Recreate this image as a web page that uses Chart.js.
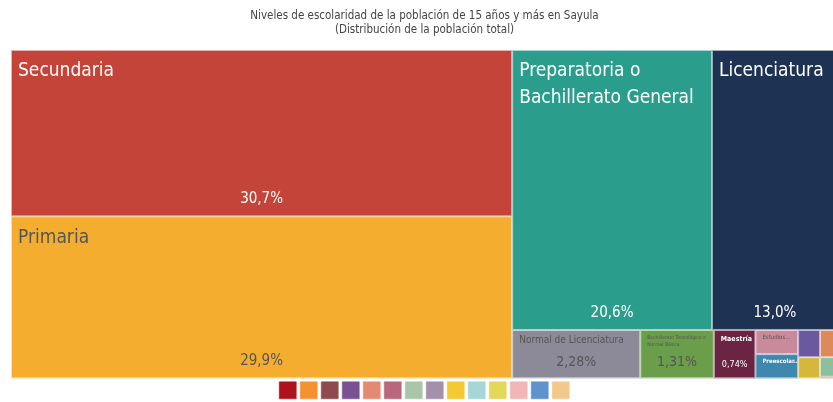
<!DOCTYPE html>
<html>
<head>
<meta charset="utf-8">
<script src="https://cdn.jsdelivr.net/npm/chart.js@4.4.1/dist/chart.umd.min.js"></script>
<style>
  html, body { margin: 0; padding: 0; background: #fff; overflow: hidden; }
  #wrap { width: 849px; height: 402px; }
</style>
</head>
<body>
<div id="wrap"><canvas id="chTreemap" width="849" height="402"></canvas></div>
<script>
/* Data */
const titleLines = ['Niveles de escolaridad de la población de 15 años y más en Sayula', '(Distribución de la población total)'];

const categories = [
    'Secundaria',
    'Primaria',
    'Preparatoria o Bachillerato General',
    'Licenciatura',
    'Normal de Licenciatura',
    'Bachillerato Tecnológico o Normal Básica',
    'Maestría',
    'Estudios Técnicos o Comerciales con Primaria Terminada',
    'Preescolar o Kinder',
    'Estudios Técnicos o Comerciales con Secundaria Terminada',
    'Estudios Técnicos o Comerciales con Preparatoria Terminada',
    'Especialidad',
    'Doctorado',
    'No especificado'
];
// share of the population, in %
const shares = [30.7, 29.9, 20.6, 13.0, 2.28, 1.31, 0.74, 0.38, 0.38, 0.22, 0.18, 0.17, 0.13, 0.01];

const cellColors = ['#C5443A', '#F5AD30', '#2A9D8C', '#1E3354', '#8C8A99', '#6A9E4B', '#6B2543',
    '#C98A9B', '#3E87AF', '#6A58A0', '#DC8A5A', '#D6B73E', '#8DBEA0', '#C0734F'];

const legendColors = ['#B0121B', '#F5922F', '#8E4A4C', '#7A5195', '#E58A72', '#B9677A', '#A9C6A9',
    '#A58FAA', '#F4C932', '#A6D6D6', '#E2D85A', '#F2B5B8', '#6092CB', '#F2C98B'];

const FONT = "'Liberation Sans Narrow', 'DejaVu Sans Condensed', Roboto, sans-serif";
const PHI = (1 + Math.sqrt(5)) / 2;

/* Helper Functions */
// squarified layout, same steps as d3.treemapSquarify
function squarify(nodes, x0, y0, x1, y1) {
    let value = nodes.reduce((s, n) => s + n.value, 0);
    let i0 = 0, i1 = 0;
    const n = nodes.length;
    while (i0 < n) {
        const dx = x1 - x0, dy = y1 - y0;
        let sumValue = nodes[i1++].value;
        let minValue = sumValue, maxValue = sumValue;
        const alpha = Math.max(dy / dx, dx / dy) / (value * PHI);
        let beta = sumValue * sumValue * alpha;
        let minRatio = Math.max(maxValue / beta, beta / minValue);
        for (; i1 < n; ++i1) {
            const v = nodes[i1].value;
            sumValue += v;
            if (v < minValue) minValue = v;
            if (v > maxValue) maxValue = v;
            beta = sumValue * sumValue * alpha;
            const newRatio = Math.max(maxValue / beta, beta / minValue);
            if (newRatio > minRatio) { sumValue -= v; break; }
            minRatio = newRatio;
        }
        const row = nodes.slice(i0, i1);
        if (dx < dy) {
            const yb = value ? y0 + dy * sumValue / value : y1;
            let x = x0;
            row.forEach(nd => {
                const w = (x1 - x0) * nd.value / sumValue;
                Object.assign(nd, { x0: x, x1: x + w, y0: y0, y1: yb });
                x += w;
            });
            y0 = yb;
        } else {
            const xb = value ? x0 + dx * sumValue / value : x1;
            let y = y0;
            row.forEach(nd => {
                const h = (y1 - y0) * nd.value / sumValue;
                Object.assign(nd, { x0: x0, x1: xb, y0: y, y1: y + h });
                y += h;
            });
            x0 = xb;
        }
        value -= sumValue;
        i0 = i1;
    }
    return nodes;
}

function wrapText(ctx, text, maxW) {
    const words = text.split(' ');
    const lines = [];
    let line = '';
    words.forEach(w => {
        const test = line ? line + ' ' + w : w;
        if (line && ctx.measureText(test).width > maxW) {
            lines.push(line);
            line = w;
        } else {
            line = test;
        }
    });
    if (line) lines.push(line);
    return lines;
}

function fmtShare(v) {
    const s = v >= 1 ? v.toPrecision(3) : v.toFixed(2);
    return s.replace('.', ',') + '%';
}

function isLight(hex) {
    const r = parseInt(hex.substr(1, 2), 16), g = parseInt(hex.substr(3, 2), 16), b = parseInt(hex.substr(5, 2), 16);
    return (0.299 * r + 0.587 * g + 0.114 * b) / 255 > 0.5;
}

function drawLabels(ctx, nd, px0, py0, px1, py1) {
    const w = px1 - px0, h = py1 - py0;
    if (w < 30 || h < 18) return;
    const light = isLight(nd.color);
    const color = light ? '#555555' : '#ffffff';
    const padX = 7;
    const pad = Math.min(10, Math.max(4, h * 0.1));
    const maxW = w - 2 * padX;
    const availH = h * 0.3;
    ctx.fillStyle = color;
    ctx.textBaseline = 'middle';

    // name: biggest size that fits
    let size = 0, lines = [];
    for (let s = 19; s >= 5; s--) {
        ctx.font = s + 'px ' + FONT;
        const l = wrapText(ctx, nd.name, maxW);
        const widest = Math.max(...l.map(t => ctx.measureText(t).width));
        if (widest <= maxW && l.length * s * 1.2 <= availH + 0.5) { size = s; lines = l; break; }
    }
    if (!size) {
        size = Math.max(5, Math.min(19, Math.floor(availH / 1.2)));
        ctx.font = size + 'px ' + FONT;
        const maxLines = Math.max(1, Math.floor((availH + 0.5) / (size * 1.2)));
        lines = wrapText(ctx, nd.name, maxW + 4).slice(0, maxLines);
        let last = lines[lines.length - 1] + '...';
        while (last.length > 4 && ctx.measureText(last).width > maxW + 4) last = last.slice(0, -4) + '...';
        lines[lines.length - 1] = last;
    }
    const weight = (!light && size < 9) ? 'bold ' : '';
    ctx.font = weight + size + 'px ' + FONT;
    ctx.textAlign = 'left';
    lines.forEach((t, i) => ctx.fillText(t, px0 + padX, py0 + pad + size * 0.6 + i * size * 1.42));

    // share
    if (h >= 40) {
        let ps = Math.min(15, Math.floor(h * 0.3));
        const txt = fmtShare(nd.value);
        ctx.font = ps + 'px ' + FONT;
        while (ps > 5 && ctx.measureText(txt).width > maxW) {
            ps--;
            ctx.font = ps + 'px ' + FONT;
        }
        ctx.textAlign = 'center';
        ctx.fillText(txt, (px0 + px1) / 2, py1 - 8 - ps * 0.6);
    }
}

const treemapPlugin = {
    id: 'treemapCells',
    beforeDatasetsDraw(chart) {
        const { ctx, chartArea, scales } = chart;
        const ar = chartArea.width / chartArea.height;
        const nodes = categories.map((name, i) => ({ name: name, value: shares[i], color: cellColors[i] }));
        squarify(nodes, 0, 0, 100 * ar, 100);
        ctx.save();
        nodes.forEach(nd => {
            const px0 = scales.x.getPixelForValue(nd.x0 / ar), px1 = scales.x.getPixelForValue(nd.x1 / ar);
            const py0 = scales.y.getPixelForValue(nd.y0), py1 = scales.y.getPixelForValue(nd.y1);
            ctx.fillStyle = nd.color;
            ctx.fillRect(px0, py0, px1 - px0, py1 - py0);
            ctx.strokeStyle = 'rgba(255,255,255,0.6)';
            ctx.lineWidth = 1;
            ctx.strokeRect(px0 + 0.5, py0 + 0.5, px1 - px0 - 1, py1 - py0 - 1);
            drawLabels(ctx, nd, px0, py0, px1, py1);
        });
        ctx.restore();
    }
};

/* Chart */
const chTreemap = document.getElementById('chTreemap');
new Chart(chTreemap, {
    type: 'scatter',
    data: { datasets: [{ data: [] }] },
    plugins: [treemapPlugin],
    options: {
        responsive: false,
        animation: false,
        devicePixelRatio: 1,
        layout: { padding: { left: 11, right: 11, top: 0, bottom: -6.8 } },
        scales: {
            x: { type: 'linear', min: 0, max: 100, display: false },
            y: { type: 'linear', min: 0, max: 100, reverse: true, display: false }
        },
        plugins: {
            tooltip: { enabled: false },
            title: {
                display: true,
                text: titleLines,
                color: '#444444',
                font: { family: FONT, size: 11.5, weight: 'normal' },
                padding: { top: 9.5, bottom: 12.9 }
            },
            legend: {
                position: 'bottom',
                onClick: null,
                labels: {
                    boxWidth: 17,
                    boxHeight: 17,
                    padding: 3.5,
                    font: { size: 1 },
                    generateLabels: () => legendColors.map(c => ({
                        text: '',
                        fillStyle: c,
                        strokeStyle: c + '88',
                        lineWidth: 1,
                        hidden: false
                    }))
                }
            }
        }
    }
});
</script>
</body>
</html>
